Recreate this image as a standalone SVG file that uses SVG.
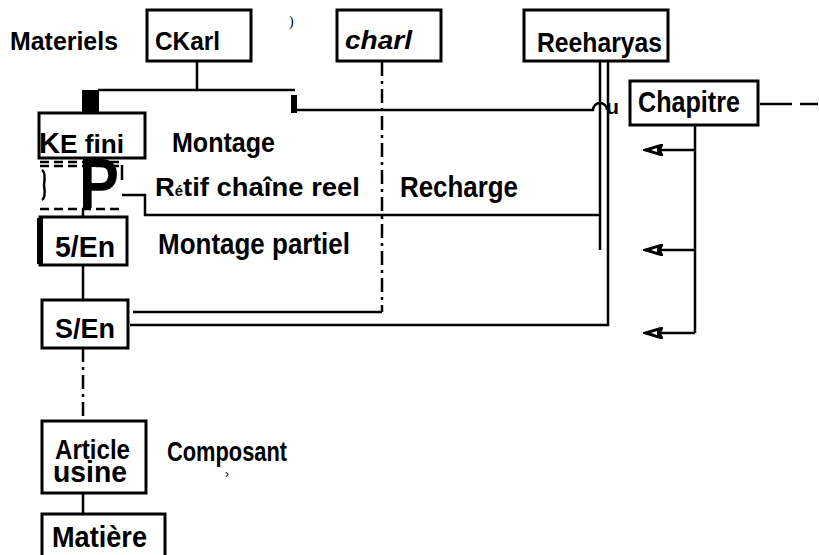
<svg xmlns="http://www.w3.org/2000/svg" width="819" height="555" viewBox="0 0 819 555">
<style>
.box{fill:#fff;stroke:#000;stroke-width:3}
.ln{fill:none;stroke:#000;stroke-width:2.5}
.dd{fill:none;stroke:#000;stroke-width:2.5;stroke-dasharray:14 5 3 5}
.t{font-family:"Liberation Sans",Arial,sans-serif;font-weight:bold;fill:#000}
</style>
<defs>
<marker id="ah" viewBox="0 0 20 12" refX="18" refY="6" markerWidth="20" markerHeight="12" markerUnits="userSpaceOnUse" orient="auto">
<path d="M20,6 L0,0 L3,6 L0,12 Z" fill="#000" stroke="#000" stroke-width="1.5" stroke-linejoin="round"/>
<path d="M12,6 L6,4 L6,8 Z" fill="#fff"/>
</marker>
</defs>
<rect width="819" height="555" fill="#fff"/>
<g id="connectors">
<path class="ln" d="M197,62 V90 M98,90 H295"/>
<rect x="82" y="90" width="17" height="23" fill="#000"/>
<rect x="291" y="95" width="6" height="18" fill="#000"/>
<path class="ln" d="M297,110 H593 A7,7 0 0 1 607,110"/>
<path class="ln" d="M600,62 V250"/>
<path class="ln" d="M608,62 V325 H130"/>
<path class="dd" d="M382,62 V312"/>
<path class="ln" d="M382,312 H133"/>
<path class="ln" d="M122,195 H145 V215 H600"/>
<path class="ln" d="M760,104 H792"/>
<path class="ln" stroke-width="3" d="M800,104 H818"/>
<path class="ln" d="M695,125 V333"/>
<path class="ln" marker-end="url(#ah)" d="M695,150 H645"/>
<path class="ln" marker-end="url(#ah)" d="M695,250 H645"/>
<path class="ln" marker-end="url(#ah)" d="M695,333 H645"/>
<path class="ln" d="M83,209 V217 M83,265 V300 M83,493 V513"/>
<path class="dd" d="M83,348 V420"/>
</g>
<g id="materiels"><text class="t" x="10" y="50" style="font-size:26px" textLength="108" lengthAdjust="spacingAndGlyphs">Materiels</text></g>
<g id="ckarl"><rect class="box" x="147" y="10" width="104" height="51"/><text class="t" x="155" y="50" style="font-size:26px" textLength="65" lengthAdjust="spacingAndGlyphs">CKarl</text></g>
<g id="mark1"><text x="289" y="26" font-family="Liberation Serif,serif" font-size="14" fill="#000">)</text></g>
<g id="charl"><rect class="box" x="337" y="10" width="104" height="51"/><text class="t" x="345" y="49" style="font-size:25px;font-style:italic" textLength="67" lengthAdjust="spacingAndGlyphs">charl</text></g>
<g id="reeharyas"><rect class="box" x="524" y="10" width="144" height="51"/><text class="t" x="537" y="52" style="font-size:28px" textLength="125" lengthAdjust="spacingAndGlyphs">Reeharyas</text></g>
<g id="chapitre"><text class="t" x="606" y="114" style="font-size:20px" textLength="13" lengthAdjust="spacingAndGlyphs">u</text><rect class="box" x="630" y="81" width="128" height="44"/><text class="t" x="638" y="112" style="font-size:30px" textLength="102" lengthAdjust="spacingAndGlyphs">Chapitre</text></g>
<g id="kefini"><rect class="box" x="39" y="113" width="106" height="45"/><text class="t" x="39" y="153" style="font-size:29px" textLength="21" lengthAdjust="spacingAndGlyphs">K</text><text class="t" x="60" y="153" style="font-size:25px" textLength="64" lengthAdjust="spacingAndGlyphs">E fini</text></g>
<g id="montage"><text class="t" x="172" y="152" style="font-size:28px" textLength="103" lengthAdjust="spacingAndGlyphs">Montage</text></g>
<g id="pbox">
<path class="ln" stroke-dasharray="9 5" d="M40,162 H122 M40,166 H122 M40,209 H122"/>
<path class="ln" stroke-width="2" d="M42,170 Q46,172 44,185 Q46,198 42,200"/>
<path class="ln" d="M122,165 V180"/>
<text class="t" x="79" y="208" style="font-size:70px" textLength="40" lengthAdjust="spacingAndGlyphs">P</text>
</g>
<g id="retif"><text class="t" x="155" y="196" style="font-size:26px" textLength="205" lengthAdjust="spacingAndGlyphs">R<tspan style="font-size:14px">é</tspan>tif  chaîne  reel</text></g>
<g id="recharge"><text class="t" x="400" y="197" style="font-size:29px" textLength="118" lengthAdjust="spacingAndGlyphs">Recharge</text></g>
<g id="en5"><rect class="box" x="40" y="217" width="87" height="48"/><rect x="37" y="218" width="6" height="46" fill="#000"/><text class="t" x="55" y="257" style="font-size:29px" textLength="60" lengthAdjust="spacingAndGlyphs">5/En</text></g>
<g id="montagepartiel"><text class="t" x="158" y="254" style="font-size:29px" textLength="192" lengthAdjust="spacingAndGlyphs">Montage partiel</text></g>
<g id="sen"><rect class="box" x="42" y="300" width="86" height="48"/><text class="t" x="55" y="338" style="font-size:28px" textLength="60" lengthAdjust="spacingAndGlyphs">S/En</text></g>
<g id="article"><rect class="box" x="42" y="421" width="104" height="72"/><text class="t" x="55" y="459" style="font-size:28px" textLength="75" lengthAdjust="spacingAndGlyphs">Article</text><text class="t" x="53" y="482" style="font-size:30px" textLength="74" lengthAdjust="spacingAndGlyphs">usine</text></g>
<g id="composant"><text class="t" x="167" y="461" style="font-size:28px" textLength="120" lengthAdjust="spacingAndGlyphs">Composant</text><text x="225" y="478" font-family="Liberation Sans,sans-serif" font-size="12" fill="#000">›</text></g>
<g id="matiere"><rect class="box" x="42" y="514" width="123" height="50"/><text class="t" x="52" y="547" style="font-size:30px" textLength="95" lengthAdjust="spacingAndGlyphs">Matière</text></g>
</svg>
